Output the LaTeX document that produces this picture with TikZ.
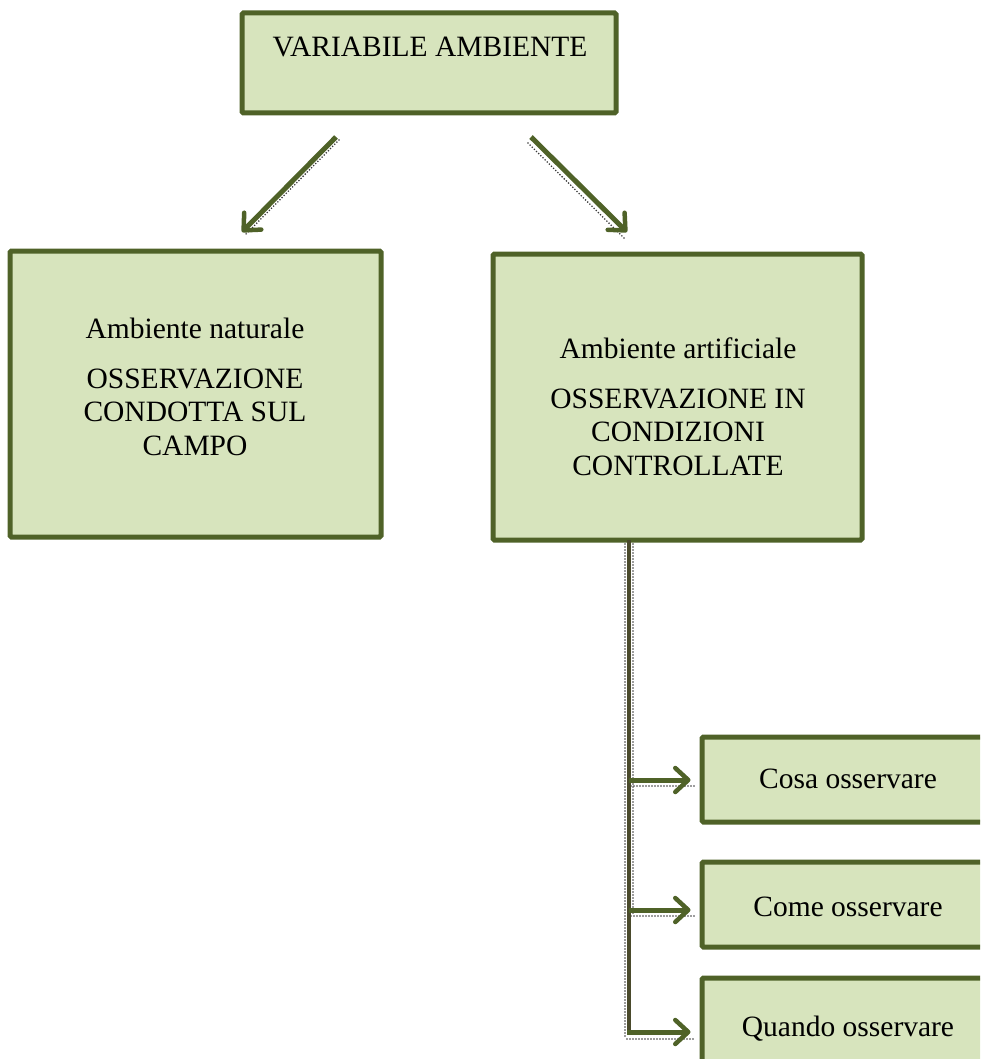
\documentclass[tikz,border=0pt]{standalone}
\usepackage{fontspec}
\setmainfont{Liberation Serif}
\usetikzlibrary{arrows.meta}
\definecolor{boxfill}{HTML}{D7E4BD}
\definecolor{boxline}{HTML}{4F6228}
\definecolor{trunk}{HTML}{4A4A2C}
\definecolor{shade}{HTML}{3A3A3A}
\tikzset{
  box/.style={draw=boxline, fill=boxfill, line width=5pt, rounded corners=1.5pt,
    rectangle, inner sep=0pt},
  txt/.style={font=\fontsize{29.5}{33.5}\selectfont, align=center, anchor=base, inner sep=0pt},
  arr/.style={draw=boxline, line width=5pt,
    -{Straight Barb[length=13pt, width=24pt, line width=4.5pt, round]}},
  shadowdots/.style={draw=shade, line width=1.8pt, line cap=round, dash pattern=on 0pt off 3pt},
}
\begin{document}
\begin{tikzpicture}[x=1pt, y=-1pt]
\useasboundingbox (0,0) rectangle (980,1059);
\clip (0,0) rectangle (980,1059);

% boxes
\node[box, minimum width=374pt, minimum height=100pt] (top)    at (429,63) {};
\node[box, minimum width=371pt, minimum height=286pt] (nat)    at (195.5,394) {};
\node[box, minimum width=369pt, minimum height=286pt] (art)    at (677.5,397) {};
\node[box, minimum width=294pt, minimum height=85pt]  (cosa)   at (849,779.5) {};
\node[box, minimum width=294pt, minimum height=85pt]  (come)   at (849,904.5) {};
\node[box, minimum width=294pt, minimum height=102pt] (quando) at (849,1029) {};

% texts
\node[txt] (t0) at (430,57) {VARIABILE AMBIENTE};
\node[txt] (t1) at (195,338) {Ambiente naturale};
\node[txt] (t2) at (195,455) {OSSERVAZIONE\\CONDOTTA SUL\\CAMPO};
\node[txt] (t3) at (678,358) {Ambiente artificiale};
\node[txt] (t4) at (678,475) {OSSERVAZIONE IN\\CONDIZIONI\\CONTROLLATE};
\node[txt] (t5) at (848,788) {Cosa osservare};
\node[txt] (t6) at (848,916) {Come osservare};
\node[txt] (t7) at (848,1036) {Quando osservare};

% connector points
\coordinate (a1s) at (336,137);
\coordinate (a1e) at (242,232);
\coordinate (a2s) at (531,137);
\coordinate (a2e) at (627,232);
\coordinate (v0) at (629,540);
\coordinate (v1) at (629,780);
\coordinate (v2) at (629,910);
\coordinate (v3) at (629,1032);

% dotted shadows
\draw[shadowdots] ([shift={(3,3)}]a1s) -- ([shift={(3,3)}]a1e);
\draw[shadowdots] ([shift={(-3,6)}]a2s) -- ([shift={(-3,6)}]a2e);
\draw[shadowdots] ([shift={(-4,4)}]v0) -- ([shift={(-4,4)}]v3);
\draw[shadowdots] ([shift={(4,4)}]v0) -- ([shift={(4,4)}]v2);
\draw[shadowdots] ([shift={(2,6)}]v1) -- ([shift={(-4,6)}]v1 -| cosa.west);
\draw[shadowdots] ([shift={(2,6)}]v2) -- ([shift={(-4,6)}]v2 -| come.west);
\draw[shadowdots] ([shift={(-2,7)}]v3) -- ([shift={(-4,7)}]v3 -| quando.west);

% arrows
\draw[arr] (a1s) -- (a1e);
\draw[arr] (a2s) -- (a2e);
\draw[trunk, line width=4pt] (v0) -- ([yshift=2pt]v3);
\draw[arr] (v1) -- ([xshift=-9pt]v1 -| cosa.west);
\draw[arr] (v2) -- ([xshift=-9pt]v2 -| come.west);
\draw[arr] ([xshift=-2pt]v3) -- ([xshift=-9pt]v3 -| quando.west);
\end{tikzpicture}
\end{document}
